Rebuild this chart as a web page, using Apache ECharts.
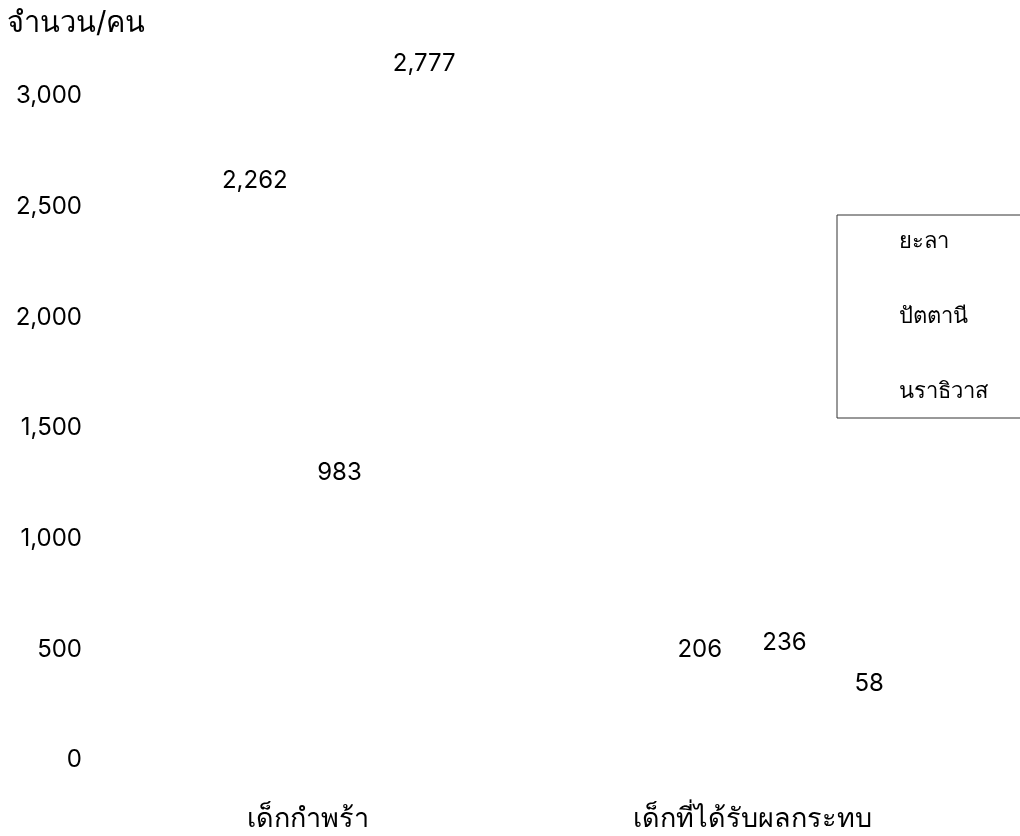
<!DOCTYPE html>
<html><head><meta charset="utf-8">
<script src="https://cdn.jsdelivr.net/npm/echarts@6/dist/echarts.min.js"></script>
<style>html,body{margin:0;padding:0;background:#fff}#c{width:1020px;height:836px}</style>
</head><body><div id="c"></div>
<script>
const categories = ['เด็กกำพร้า', 'เด็กที่ได้รับผลกระทบ'];
const seriesNames = ['ยะลา', 'ปัตตานี', 'นราธิวาส'];
const yala = [2262, 206];
const pattani = [983, 236];
const narathiwat = [2777, 58];
const yTicks = [0, 500, 1000, 1500, 2000, 2500, 3000];

const seriesData = [yala, pattani, narathiwat];
const chart = echarts.init(document.getElementById('c'));
const clear = 'rgba(0,0,0,0)';
const font = 'Inter';
chart.setOption({
  animation: false,
  backgroundColor: '#fff',
  title: { text: 'จำนวน/คน', left: 2, top: 4, textStyle: { fontSize: 29, fontWeight: 'normal', color: '#000', fontFamily: font } },
  legend: {
    data: seriesNames, orient: 'vertical', left: 837, top: 215,
    borderColor: '#333', borderWidth: 1, padding: [15, 40, 16, 43],
    itemGap: 53, itemWidth: 14, itemHeight: 14,
    textStyle: { fontSize: 22, color: '#000', fontFamily: font }
  },
  grid: [
    { left: 85, right: 45, top: 96, bottom: 76 },
    { left: 85, right: 45, top: 30, bottom: 122 }
  ],
  xAxis: [
    { type: 'category', gridIndex: 0, data: categories, axisLine: { show: false }, axisTick: { show: false },
      axisLabel: { fontSize: 27, color: '#000', margin: 45, fontFamily: font } },
    { type: 'category', gridIndex: 1, data: categories, show: false }
  ],
  yAxis: [
    { type: 'value', gridIndex: 0, min: yTicks[0], max: yTicks[yTicks.length - 1], interval: yTicks[1] - yTicks[0],
      splitLine: { show: false }, axisLine: { show: false }, axisTick: { show: false },
      axisLabel: { fontSize: 24, color: '#000', margin: 3, fontFamily: font,
        formatter: v => v.toLocaleString('en-US') } },
    { type: 'value', gridIndex: 1, min: yTicks[0], max: yTicks[yTicks.length - 1], show: false }
  ],
  series: seriesData.map((d, i) => ({
    name: seriesNames[i], type: 'bar', xAxisIndex: 1, yAxisIndex: 1, data: d,
    barWidth: 70, barGap: '21%',
    itemStyle: { color: clear },
    label: { show: true, position: 'top', offset: [32, 0], fontSize: 24, color: '#000', fontFamily: font,
      formatter: p => p.value.toLocaleString('en-US') }
  }))
});
</script></body></html>
